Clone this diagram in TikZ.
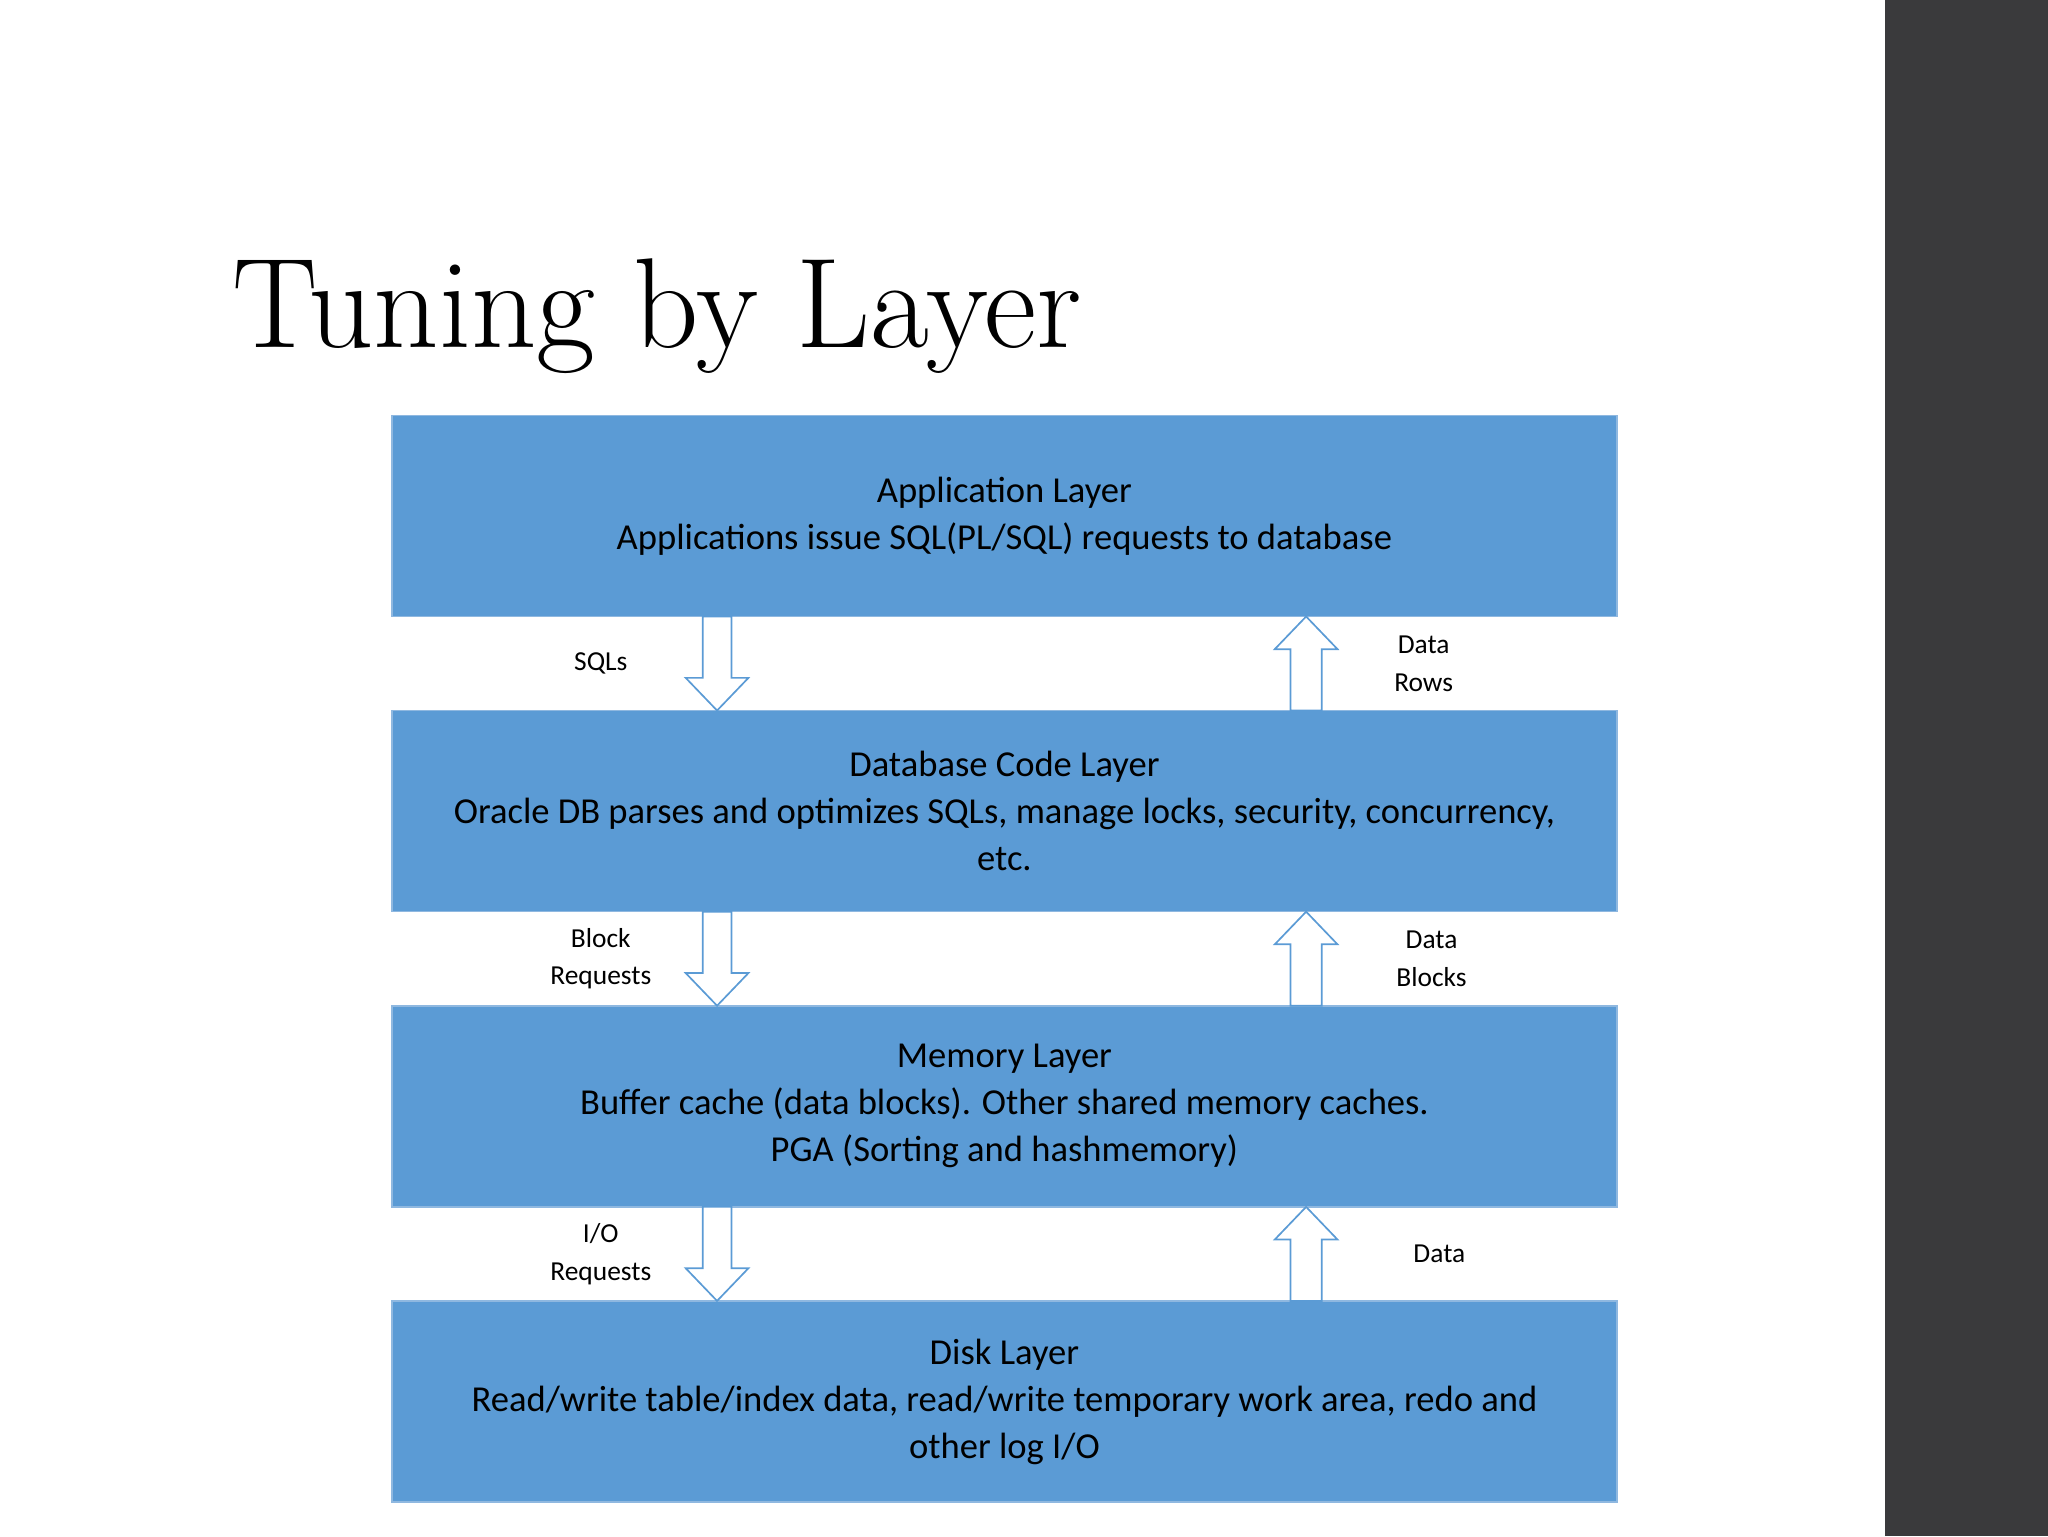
\documentclass[tikz,border=0pt]{standalone}
\usepackage{fontspec}
\setmainfont{Carlito}
\newfontfamily\titlefont{Latin Modern Roman}
\definecolor{boxblue}{HTML}{5B9BD5}
\definecolor{boxedge}{HTML}{8FB8E0}
\definecolor{sidebar}{HTML}{3A3A3C}
\begin{document}
\begin{tikzpicture}[x=1pt,y=-1pt,
  layer/.style={fill=boxblue,draw=boxedge,line width=1.2pt,minimum width=938pt,minimum height=154pt,inner sep=0pt,align=center,font=\fontsize{28}{36}\selectfont,text=black},
  lbl/.style={align=center,font=\fontsize{21}{29}\selectfont,text=black},
  arr/.style={fill=white,draw=boxblue,line width=1.3pt,line join=miter}]
\useasboundingbox (0,0) rectangle (1568,1176);
\fill[sidebar] (1443,0) rectangle (1568,1176);
\node[anchor=base west,inner sep=0pt,font=\titlefont\fontsize{98}{110}\selectfont] (title) at (178,266) {Tuning by Layer};
\node[layer] (app) at (769,395) {Application Layer\\Applications issue SQL(PL/SQL) requests to database};
\node[layer] (db) at (769,621) {Database Code Layer\\Oracle DB parses and optimizes SQLs, manage locks, security, concurrency,\\etc.};
\node[layer] (mem) at (769,847) {Memory Layer\\Buffer cache (data blocks). Other shared memory caches.\\PGA (Sorting and hashmemory)};
\node[layer] (disk) at (769,1073) {Disk Layer\\Read/write table/index data, read/write temporary work area, redo and\\other log I/O};
\foreach \d in {0,226,452}{
  \draw[arr] (538,472+\d)--(560,472+\d)--(560,519+\d)--(573,519+\d)--(549,544+\d)--(525,519+\d)--(538,519+\d)--cycle;
  \draw[arr] (988,544+\d)--(1012,544+\d)--(1012,497+\d)--(1024,497+\d)--(1000,472+\d)--(976,497+\d)--(988,497+\d)--cycle;
}
\node[lbl] (l1) at (460,508) {SQLs};
\node[lbl] (l2) at (1090,508) {Data\\Rows};
\node[lbl] (l3) at (460,734) {Block\\Requests};
\node[lbl] (l4) at (1096,734) {Data\\Blocks};
\node[lbl] (l5) at (460,960) {I/O\\Requests};
\node[lbl] (l6) at (1102,960) {Data};
\end{tikzpicture}
\end{document}
